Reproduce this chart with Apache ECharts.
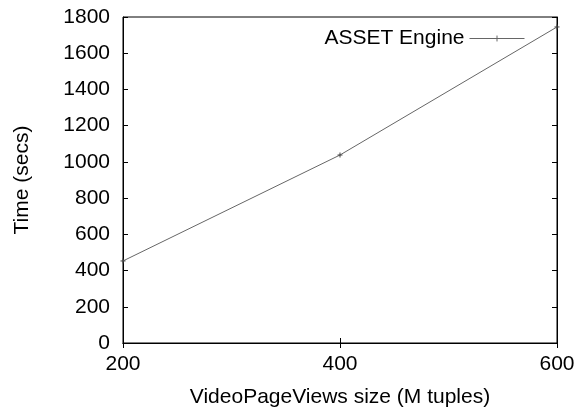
<!DOCTYPE html>
<html><head><meta charset="utf-8">
<script src="https://cdn.jsdelivr.net/npm/echarts@6/dist/echarts.min.js"></script>
<style>html,body{margin:0;padding:0;background:#fff}#c{width:581px;height:409px}</style>
</head><body><div id="c"></div>
<script>
const sizes = [200, 400, 600];
const times = [453, 1038, 1745];
const seriesName = 'ASSET Engine';
const xTitle = 'VideoPageViews size (M tuples)';
const yTitle = 'Time (secs)';

const font = 'Liberation Sans, Arial, sans-serif';
const fs = 21;
const chart = echarts.init(document.getElementById('c'));
const tickStyle = {show: true, inside: true, length: 5, lineStyle: {color: '#000', width: 1}};
const plus = 'path://M0,5L10,5M5,0L5,10';
chart.setOption({
  animation: false,
  grid: {left: 123, right: 24, top: 17, bottom: 66, show: true, borderColor: '#000', borderWidth: 1,
         outerBoundsMode: 'none', containLabel: false},
  legend: {
    show: true, right: 51, top: 23, align: 'right', itemWidth: 55, itemHeight: 12, itemGap: 12,
    textStyle: {fontFamily: font, fontSize: fs, color: '#000'},
    data: [{name: seriesName, icon: 'path://M0,6L56,6M28,3L28,9'}],
    itemStyle: {color: '#666', borderColor: '#666', borderWidth: 1}
  },
  xAxis: [
    {type: 'value', min: 200, max: 600, interval: 200, position: 'bottom',
     axisLine: {show: true, lineStyle: {color: '#000'}}, axisTick: tickStyle, splitLine: {show: false},
     axisLabel: {fontFamily: font, fontSize: fs, color: '#000', margin: 11, formatter: v => String(v)},
     name: xTitle, nameLocation: 'middle', nameGap: 44,
     nameTextStyle: {fontFamily: font, fontSize: fs, color: '#000'}},
    {type: 'value', min: 200, max: 600, interval: 200, position: 'top',
     axisLine: {show: true, lineStyle: {color: '#000'}}, axisTick: tickStyle, splitLine: {show: false},
     axisLabel: {show: false}}
  ],
  yAxis: [
    {type: 'value', min: 0, max: 1800, interval: 200, position: 'left',
     axisLine: {show: true, lineStyle: {color: '#000'}}, axisTick: tickStyle, splitLine: {show: false},
     axisLabel: {fontFamily: font, fontSize: fs, color: '#000', margin: 13, formatter: v => String(v)},
     name: yTitle, nameLocation: 'middle', nameGap: 90, nameRotate: 90,
     nameTextStyle: {fontFamily: font, fontSize: fs, color: '#000'}},
    {type: 'value', min: 0, max: 1800, interval: 200, position: 'right',
     axisLine: {show: true, lineStyle: {color: '#000'}}, axisTick: tickStyle, splitLine: {show: false},
     axisLabel: {show: false}}
  ],
  series: [{
    name: seriesName, type: 'line', data: sizes.map((s, i) => [s, times[i]]),
    symbol: plus, symbolSize: 5, showSymbol: true,
    lineStyle: {color: '#666', width: 1},
    itemStyle: {color: '#666', borderColor: '#444', borderWidth: 1}
  }]
});
</script></body></html>
